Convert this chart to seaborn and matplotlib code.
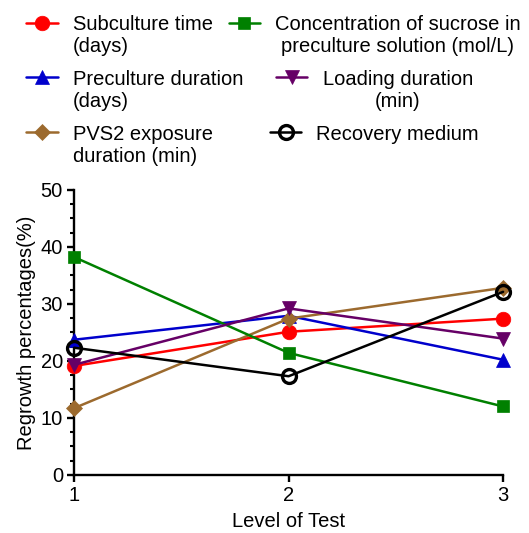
import numpy as np
import pandas as pd
import matplotlib
matplotlib.use("Agg")
import matplotlib.pyplot as plt
from matplotlib.ticker import MultipleLocator
import seaborn as sns

# --- data ---
levels = [1, 2, 3]
subculture_time = [19.1, 25.1, 27.4]
preculture_duration = [23.7, 27.9, 20.2]
pvs2_exposure = [11.7, 27.4, 32.8]
sucrose_conc = [38.2, 21.4, 12.0]
loading_duration = [19.3, 29.2, 23.9]
recovery_medium = [22.3, 17.3, 32.1]

series_names = [
    "Subculture time\n(days)",
    "Preculture duration\n(days)",
    "PVS2 exposure\nduration (min)",
    "Concentration of sucrose in\npreculture solution (mol/L)",
    "Loading duration\n(min)",
    "Recovery medium",
]
series_values = [subculture_time, preculture_duration, pvs2_exposure,
                 sucrose_conc, loading_duration, recovery_medium]
colors = ["#FF0000", "#0000CC", "#9C6A2E", "#008000", "#660066", "#000000"]
markers = ["o", "^", "D", "s", "v", "o"]
msizes = [10.5, 10, 8.5, 9, 10, 10]

FS = 14.5

sns.set_theme(style="ticks")
plt.rcParams["font.family"] = ["Liberation Sans", "DejaVu Sans"]
plt.rcParams["text.color"] = "black"
plt.rcParams["axes.labelcolor"] = "black"

fig = plt.figure(figsize=(5.29, 5.33), dpi=100)
ax = fig.add_axes([0.140, 0.109, 0.811, 0.535])

for name, vals, c, m, ms in zip(series_names, series_values, colors, markers, msizes):
    df = pd.DataFrame({"level": levels, "value": vals})
    open_marker = name == "Recovery medium"
    sns.lineplot(data=df, x="level", y="value", ax=ax, color=c, marker=m,
                 markersize=ms, linewidth=1.8, label=name,
                 markerfacecolor="none" if open_marker else c,
                 markeredgecolor=c, markeredgewidth=2.4 if open_marker else 0.5,
                 clip_on=False, zorder=3)

ax.set_xlim(1, 3)
ax.set_ylim(0, 50)
ax.set_xticks(levels)
ax.set_xticklabels(["1", "2", "3"])
ax.yaxis.set_major_locator(MultipleLocator(10))
ax.yaxis.set_minor_locator(MultipleLocator(2.5))

for side in ["top", "right"]:
    ax.spines[side].set_visible(False)
for side in ["left", "bottom"]:
    ax.spines[side].set_linewidth(1.7)
    ax.spines[side].set_color("black")

ax.tick_params(axis="both", which="major", length=5, width=1.7, labelsize=FS,
               colors="black", pad=3)
ax.tick_params(axis="y", which="minor", length=3, width=1.5, color="black")
ax.set_xlabel("Level of Test", fontsize=FS, labelpad=5)
ax.set_ylabel("Regrowth percentages(%)", fontsize=FS, labelpad=3)
ax.grid(False)

handles, labels = ax.get_legend_handles_labels()
ax.get_legend().remove()

leg_kw = dict(loc="upper left", frameon=False, fontsize=FS, handlelength=1.55,
              handletextpad=0.75, labelspacing=0.68, borderaxespad=0, borderpad=0,
              labelcolor="black")
leg1 = fig.legend(handles[:3], labels[:3], bbox_to_anchor=(0.05, 0.971), **leg_kw)
leg2 = fig.legend(handles[3:], labels[3:], bbox_to_anchor=(0.432, 0.971), **leg_kw)

# markers sit on the first text line; right-hand column is centred like the original
for leg in (leg1, leg2):
    for col in leg._legend_handle_box.get_children():
        for item in col.get_children():
            item.align = "top"
for col in leg2._legend_handle_box.get_children():
    col.align = "center"
for txt in leg2.get_texts():
    txt.set_multialignment("center")

fig.savefig("out.png", dpi=100)
